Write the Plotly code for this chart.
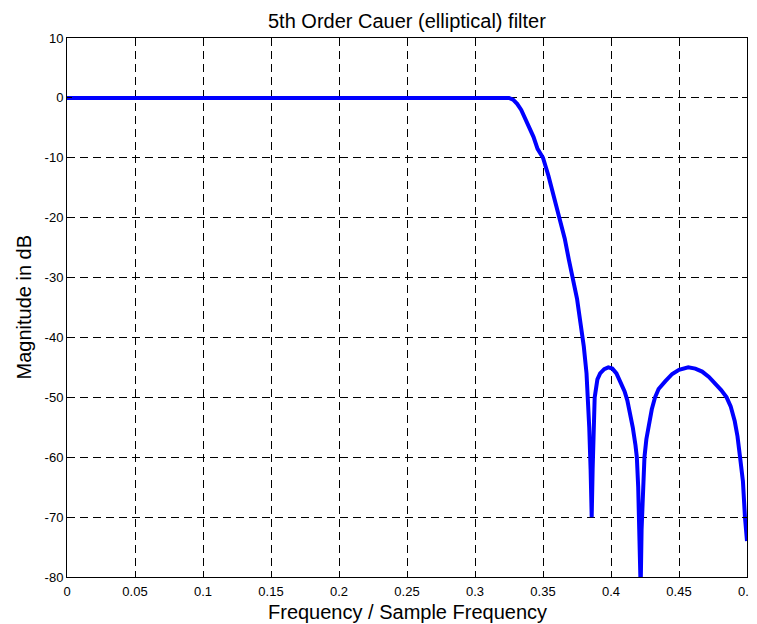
import plotly.graph_objects as go

# Frequency (normalised) and magnitude (dB)
freq = [0.0, 0.05, 0.1, 0.15, 0.2, 0.25, 0.3, 0.325, 0.328, 0.331, 0.334, 0.337,
        0.340, 0.343, 0.346, 0.350, 0.354, 0.358, 0.3625, 0.366, 0.369, 0.372,
        0.375, 0.3775, 0.380, 0.382, 0.383, 0.384, 0.385, 0.3858, 0.3865, 0.3875,
        0.388, 0.390, 0.392, 0.395, 0.398, 0.401, 0.404, 0.407, 0.410, 0.412,
        0.414, 0.416, 0.418, 0.419, 0.420, 0.421, 0.4218, 0.4225, 0.4235, 0.4246,
        0.426, 0.428, 0.430, 0.4324, 0.435, 0.440, 0.445, 0.450, 0.4568, 0.462,
        0.467, 0.472, 0.477, 0.481, 0.485, 0.488, 0.491, 0.493, 0.4949, 0.497,
        0.4985, 0.5]
mag_db = [0, 0, 0, 0, 0, 0, 0, 0, -0.3, -1, -2, -3.5,
          -5, -6.5, -8.5, -10, -13, -16.5, -20, -23.5, -27, -30,
          -33.5, -37.5, -41.5, -46, -50, -55, -62, -70, -62, -55,
          -50, -47, -46, -45.3, -45, -45.2, -46, -47.5, -49, -50.5,
          -52.5, -55, -58, -60, -65, -72, -82, -72, -65, -60,
          -57, -54.5, -52, -50, -48.6, -47.3, -46.1, -45.4, -45, -45.2,
          -45.7, -46.6, -47.7, -48.8, -50, -51.5, -54, -56.5, -60, -64,
          -70, -74]

x_ticks = [0, 0.05, 0.1, 0.15, 0.2, 0.25, 0.3, 0.35, 0.4, 0.45, 0.5]
x_tick_labels = ["0", "0.05", "0.1", "0.15", "0.2", "0.25", "0.3", "0.35", "0.4", "0.45", "0.5"]
y_ticks = [10, 0, -10, -20, -30, -40, -50, -60, -70, -80]
y_tick_labels = ["10", "0", "-10", "-20", "-30", "-40", "-50", "-60", "-70", "-80"]

title_text = "5th Order Cauer (elliptical) filter"
x_label = "Frequency / Sample Frequency"
y_label = "Magnitude in dB"

fig = go.Figure()
fig.add_trace(go.Scatter(x=freq, y=mag_db, mode="lines",
                         line=dict(color="#0000FF", width=4),
                         showlegend=False, cliponaxis=True))

font_family = "Liberation Sans, Arial, sans-serif"
axis_common = dict(showline=True, linecolor="black", linewidth=1, mirror="allticks",
                   ticks="inside", ticklen=5, tickcolor="black", automargin=False,
                   showgrid=True, gridcolor="black", gridwidth=1, griddash="8px,5px",
                   zeroline=False, tickfont=dict(family=font_family, size=13, color="black"))

fig.update_xaxes(range=[0, 0.5], tickvals=x_ticks, ticktext=x_tick_labels,
                 ticklabelstandoff=2, **axis_common)
fig.update_yaxes(range=[-80, 10], tickvals=y_ticks, ticktext=y_tick_labels, **axis_common)

label_font = dict(family=font_family, size=20, color="black")
fig.add_annotation(text=title_text, xref="paper", yref="paper", x=0.5, y=1.0315,
                   xanchor="center", yanchor="middle", showarrow=False, font=label_font)
fig.add_annotation(text=x_label, xref="paper", yref="paper", x=0.5, y=-0.0649,
                   xanchor="center", yanchor="middle", showarrow=False, font=label_font)
fig.add_annotation(text=y_label, xref="paper", yref="paper", x=-0.0647, y=0.5,
                   xanchor="center", yanchor="middle", textangle=-90, showarrow=False,
                   font=label_font)

# page has an 8px body margin; plot area lands at x 67..747, y 38..577
fig.update_layout(width=749, height=616,
                  margin=dict(l=59, r=10, t=30, b=47),
                  paper_bgcolor="white", plot_bgcolor="white")

fig.write_html("out.html")
